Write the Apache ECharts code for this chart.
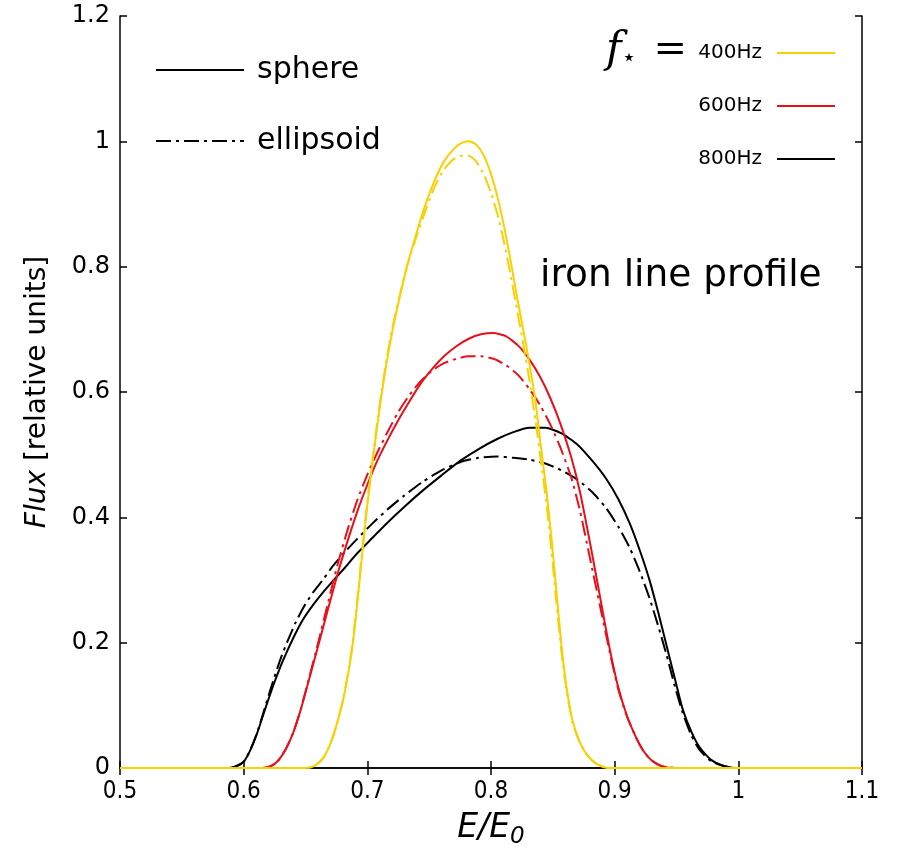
<!DOCTYPE html>
<html>
<head>
<meta charset="utf-8">
<script src="https://cdn.jsdelivr.net/npm/echarts@6/dist/echarts.min.js"></script>
<style>
  html, body { margin: 0; padding: 0; background: #fff; }
  #main { width: 904px; height: 849px; }
</style>
</head>
<body>
<div id="main"></div>
<script>
// E/E0 values and flux for f = 400Hz (sphere, ellipsoid)
var x400 = [0.5, 0.63, 0.650, 0.657, 0.664, 0.670, 0.675, 0.680, 0.684, 0.688, 0.692, 0.696, 0.700, 0.705, 0.710, 0.715, 0.720, 0.726, 0.732, 0.740, 0.748, 0.755, 0.762, 0.770, 0.776, 0.782, 0.788, 0.794, 0.800, 0.806, 0.811, 0.816, 0.821, 0.826, 0.831, 0.836, 0.840, 0.845, 0.849, 0.853, 0.857, 0.861, 0.866, 0.872, 0.878, 0.885, 0.894, 0.92, 1.1];
var y400Sph = [0, 0, 0, 0.003, 0.015, 0.038, 0.068, 0.105, 0.145, 0.195, 0.265, 0.345, 0.42, 0.50, 0.575, 0.64, 0.695, 0.75, 0.80, 0.855, 0.905, 0.94, 0.968, 0.988, 0.997, 1.0, 0.995, 0.978, 0.948, 0.905, 0.86, 0.808, 0.752, 0.70, 0.646, 0.585, 0.518, 0.44, 0.365, 0.28, 0.195, 0.13, 0.075, 0.04, 0.02, 0.007, 0, 0, 0];
var y400Ell = [0, 0, 0, 0.003, 0.015, 0.038, 0.068, 0.106, 0.147, 0.198, 0.27, 0.35, 0.425, 0.505, 0.58, 0.645, 0.70, 0.752, 0.80, 0.85, 0.895, 0.93, 0.955, 0.972, 0.977, 0.977, 0.968, 0.948, 0.918, 0.878, 0.835, 0.785, 0.732, 0.678, 0.62, 0.555, 0.495, 0.42, 0.345, 0.262, 0.185, 0.125, 0.072, 0.04, 0.02, 0.007, 0, 0, 0];

// f = 600Hz
var x600 = [0.5, 0.60, 0.615, 0.622, 0.628, 0.634, 0.640, 0.646, 0.652, 0.660, 0.668, 0.676, 0.684, 0.692, 0.700, 0.708, 0.716, 0.725, 0.734, 0.743, 0.753, 0.762, 0.772, 0.782, 0.792, 0.802, 0.812, 0.822, 0.831, 0.840, 0.848, 0.856, 0.865, 0.872, 0.880, 0.888, 0.896, 0.903, 0.910, 0.917, 0.923, 0.930, 0.938, 0.95, 1.1];
var y600Sph = [0, 0, 0, 0.003, 0.012, 0.03, 0.056, 0.092, 0.135, 0.193, 0.252, 0.31, 0.362, 0.41, 0.452, 0.49, 0.522, 0.555, 0.585, 0.613, 0.638, 0.657, 0.673, 0.685, 0.692, 0.694, 0.689, 0.674, 0.652, 0.623, 0.59, 0.55, 0.495, 0.44, 0.36, 0.275, 0.19, 0.128, 0.083, 0.05, 0.028, 0.012, 0.003, 0, 0];
var y600Ell = [0, 0, 0, 0.003, 0.012, 0.03, 0.056, 0.093, 0.137, 0.198, 0.262, 0.325, 0.38, 0.428, 0.468, 0.503, 0.535, 0.568, 0.595, 0.617, 0.635, 0.646, 0.653, 0.657, 0.657, 0.653, 0.643, 0.627, 0.605, 0.578, 0.548, 0.512, 0.463, 0.41, 0.335, 0.26, 0.185, 0.125, 0.082, 0.05, 0.028, 0.012, 0.003, 0, 0];

// f = 800Hz
var x800 = [0.5, 0.57, 0.588, 0.594, 0.600, 0.605, 0.611, 0.617, 0.624, 0.630, 0.636, 0.642, 0.648, 0.656, 0.664, 0.672, 0.682, 0.692, 0.704, 0.716, 0.730, 0.745, 0.760, 0.775, 0.790, 0.805, 0.818, 0.831, 0.844, 0.857, 0.870, 0.882, 0.893, 0.903, 0.912, 0.920, 0.928, 0.935, 0.942, 0.949, 0.955, 0.962, 0.969, 0.978, 0.987, 0.997, 1.03, 1.1];
var y800Sph = [0, 0, 0, 0.003, 0.01, 0.027, 0.056, 0.092, 0.132, 0.163, 0.19, 0.215, 0.237, 0.26, 0.28, 0.298, 0.32, 0.343, 0.367, 0.391, 0.417, 0.443, 0.467, 0.49, 0.509, 0.525, 0.536, 0.543, 0.543, 0.534, 0.516, 0.49, 0.462, 0.429, 0.391, 0.349, 0.301, 0.25, 0.195, 0.14, 0.094, 0.058, 0.032, 0.013, 0.004, 0, 0, 0];
var y800Ell = [0, 0, 0, 0.003, 0.01, 0.027, 0.057, 0.095, 0.14, 0.175, 0.205, 0.232, 0.255, 0.28, 0.30, 0.322, 0.345, 0.366, 0.39, 0.412, 0.435, 0.457, 0.475, 0.488, 0.495, 0.497, 0.495, 0.492, 0.486, 0.475, 0.46, 0.44, 0.415, 0.385, 0.352, 0.315, 0.272, 0.228, 0.18, 0.128, 0.088, 0.052, 0.028, 0.011, 0.004, 0, 0, 0];

var freqNames = ['400Hz', '600Hz', '800Hz'];
var shapeNames = ['sphere', 'ellipsoid'];

var yellow = '#f7d100', red = '#e8101a', black = '#000000';
var dashDot = [15, 5, 3, 5];

var zip = function (xs, ys) {
    return xs.map(function (x, i) { return [x, ys[i]]; });
};
var fmt = function (v) { return String(Math.round(v * 10) / 10); };

var curve = function (name, xs, ys, color, dashed) {
    return {
        name: name,
        type: 'line',
        data: zip(xs, ys),
        symbol: 'none',
        smooth: 0.2,
        silent: true,
        lineStyle: { color: color, width: 2, type: dashed ? dashDot : 'solid' },
        itemStyle: { color: color }
    };
};

var myChart = echarts.init(document.getElementById('main'));
var sans = 'DejaVu Sans';
var axisLine = { show: true, lineStyle: { color: '#000', width: 1.5 } };
var axisTick = { show: true, inside: true, length: 7, lineStyle: { color: '#000', width: 1.5 } };

var option = {
    animation: false,
    backgroundColor: '#fff',
    grid: { left: 120, right: 42, top: 16, bottom: 81, outerBoundsMode: 'none', containLabel: false },
    xAxis: [{
        type: 'value', min: 0.5, max: 1.1, interval: 0.1,
        name: '{a|E/E}{b|0}', nameLocation: 'middle', nameGap: 40,
        nameTextStyle: {
            rich: {
                a: { fontFamily: sans, fontSize: 33, fontStyle: 'italic', color: '#000' },
                b: { fontFamily: sans, fontSize: 23, fontStyle: 'italic', color: '#000', padding: [18, 0, 0, 0] }
            }
        },
        axisLine: axisLine, axisTick: axisTick,
        axisLabel: { formatter: fmt, margin: 12, color: '#000', fontSize: 24, fontFamily: "'DejaVu Sans Condensed', 'DejaVu Sans', sans-serif" },
        splitLine: { show: false }
    }, {
        type: 'value', position: 'top', min: 0.5, max: 1.1, interval: 0.1,
        axisLine: axisLine, axisTick: axisTick,
        axisLabel: { show: false }, splitLine: { show: false }
    }],
    yAxis: [{
        type: 'value', min: 0, max: 1.2, interval: 0.2,
        name: '{i|Flux} [relative units]', nameLocation: 'middle', nameGap: 68,
        nameTextStyle: {
            fontFamily: sans, fontSize: 28, color: '#000',
            rich: { i: { fontFamily: sans, fontSize: 28, fontStyle: 'italic', color: '#000' } }
        },
        axisLine: axisLine, axisTick: axisTick,
        axisLabel: { formatter: fmt, margin: 10, color: '#000', fontSize: 24, fontFamily: sans },
        splitLine: { show: false }
    }, {
        type: 'value', position: 'right', min: 0, max: 1.2, interval: 0.2,
        axisLine: axisLine, axisTick: axisTick,
        axisLabel: { show: false }, splitLine: { show: false }
    }],
    legend: [{
        data: shapeNames,
        orient: 'vertical', left: 150, top: 50,
        itemWidth: 88, itemHeight: 36, itemGap: 41,
        selectedMode: false,
        itemStyle: { opacity: 0 },
        textStyle: { fontFamily: sans, fontSize: 30, color: '#000', padding: [0, 0, 0, 8] }
    }, {
        data: freqNames,
        orient: 'vertical', align: 'right', right: 63, top: 38,
        itemWidth: 58, itemHeight: 24, itemGap: 33,
        selectedMode: false,
        itemStyle: { opacity: 0 },
        textStyle: { fontFamily: sans, fontSize: 20, color: '#000', padding: [0, 10, 0, 0] }
    }],
    graphic: [{
        type: 'text', x: 540, y: 276,
        style: { text: 'iron line profile', fontFamily: sans, fontSize: 37.5, fill: '#000', verticalAlign: 'middle' }
    }, {
        type: 'text', x: 687, y: 51,
        style: {
            text: '{f|f}{s|\u22c6}{g| }{e|=}', align: 'right', verticalAlign: 'middle',
            rich: {
                f: { fontFamily: 'DejaVu Serif', fontStyle: 'italic', fontSize: 42, fill: '#000' },
                s: { fontFamily: sans, fontSize: 24, fill: '#000', padding: [16, 0, 0, 0] },
                g: { fontSize: 10, width: 17 },
                e: { fontFamily: 'DejaVu Serif', fontSize: 40, fill: '#000' }
            }
        }
    }],
    series: [
        curve('800Hz', x800, y800Sph, black, false),
        curve('800Hz ellipsoid', x800, y800Ell, black, true),
        curve('600Hz', x600, y600Sph, red, false),
        curve('600Hz ellipsoid', x600, y600Ell, red, true),
        curve('400Hz', x400, y400Sph, yellow, false),
        curve('400Hz ellipsoid', x400, y400Ell, yellow, true),
        curve('sphere', [], [], black, false),
        curve('ellipsoid', [], [], black, true)
    ]
};
myChart.setOption(option);
</script>
</body>
</html>
